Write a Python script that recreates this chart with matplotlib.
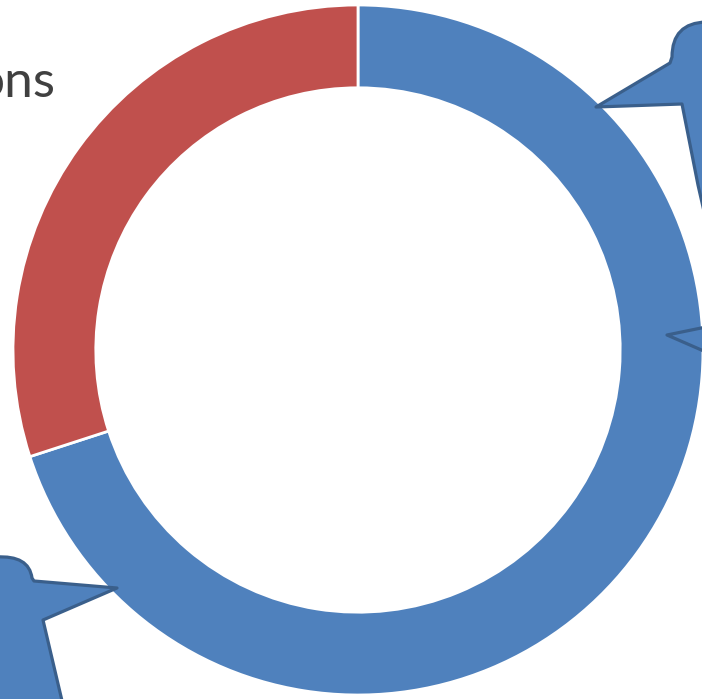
import matplotlib.pyplot as plt
from matplotlib.path import Path
from matplotlib.patches import PathPatch

# donut data (share of the ring, clockwise from 12 o'clock)
labels = ['A', 'B']
values = [70, 30]
colors = ['#4F81BD', '#C0504D']

W, H = 702, 699
fig = plt.figure(figsize=(W / 100, H / 100), dpi=100)
ax = fig.add_axes([0, 0, 1, 1])

# ring centre and radius in pixels
cx, cy, R = 358, 350, 345
ax.pie(values, colors=colors, startangle=90, counterclock=False, radius=1,
       wedgeprops=dict(width=0.24, edgecolor='white', linewidth=2))
ax.set_xlim(-cx / R, (W - cx) / R)
ax.set_ylim(-(H - cy) / R, cy / R)
ax.set_aspect('auto')
ax.axis('off')

# cropped title text
fig.text(56 / W, 1 - 97 / H, 'ons', ha='right', va='baseline',
         fontsize=37, color='#404040', family=['Lato', 'DejaVu Sans'])


def px(x, y):
    return (x / W, 1 - y / H)


def callout(verts, codes):
    p = Path([px(*v) for v in verts], codes)
    fig.add_artist(PathPatch(p, facecolor='#4F81BD', edgecolor='#3A5F8B',
                             linewidth=2.3, joinstyle='round',
                             transform=fig.transFigure))


M, L, C3, CL = Path.MOVETO, Path.LINETO, Path.CURVE3, Path.CLOSEPOLY

# callout top right
callout([(706, 22), (672, 23), (672, 57), (670, 63), (596, 107), (682, 104),
         (698, 185), (706, 220), (706, 22)],
        [M, C3, C3, L, L, L, L, L, CL])

# callout right middle
callout([(706, 327), (667, 335), (706, 352), (706, 327)],
        [M, L, L, CL])

# callout bottom left
callout([(-4, 557), (29, 555), (32, 578), (34, 581), (117, 588), (43, 620),
         (63, 705), (-4, 705), (-4, 557)],
        [M, C3, C3, L, L, L, L, L, CL])

fig.savefig('out.png', dpi=100)
